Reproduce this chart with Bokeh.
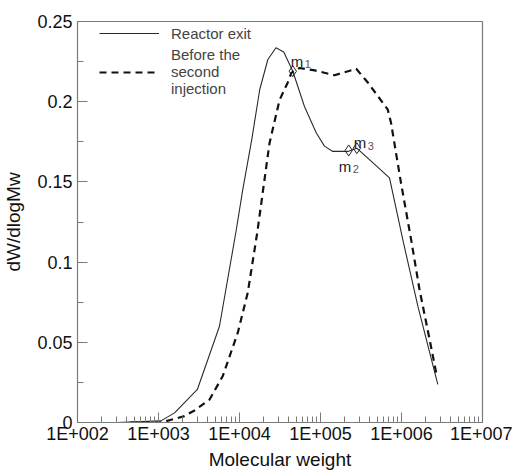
from bokeh.plotting import figure
from bokeh.models import (Legend, LegendItem, LogTicker, SingleIntervalTicker,
                          CustomJSTickFormatter, ColumnDataSource, Range1d)
from bokeh.embed import file_html
from bokeh.resources import INLINE
from bokeh.core.properties import value

# ---- data ----
reactor_mw = [310, 1070, 1580, 3020, 5660, 9120, 10960, 14130, 17780, 22390,
              28180, 35160, 45500, 63400, 88500, 111900, 141900, 217300,
              280500, 711200, 1037500, 1592000, 2805000]
reactor_w = [0.0, 0.001, 0.006, 0.0206, 0.060, 0.120, 0.145, 0.176, 0.2076,
             0.2263, 0.2336, 0.231, 0.219, 0.197, 0.1806, 0.1723, 0.169,
             0.169, 0.171, 0.1525, 0.114, 0.0725, 0.0237]

before_mw = [450, 1070, 1510, 2090, 2780, 4270, 6220, 9530, 12650, 16520,
             23440, 31190, 39450, 43650, 55080, 85100, 148900, 276100,
             383700, 677600, 741300, 988600, 1315000, 1667000, 2218000,
             2679000]
before_w = [0.0, 0.0, 0.002, 0.004, 0.0075, 0.0143, 0.029, 0.056, 0.081,
            0.118, 0.174, 0.201, 0.212, 0.218, 0.221, 0.2195, 0.2165, 0.2205,
            0.212, 0.195, 0.187, 0.149, 0.114, 0.083, 0.052, 0.031]

marker_mw = [45500, 223000, 281000]
marker_w = [0.219, 0.1696, 0.171]
marker_names = ["m", "m", "m"]
marker_subs = ["1", "2", "3"]

legend_labels = ["Reactor exit", "Before the\nsecond\ninjection"]
x_axis_title = "Molecular weight"
y_axis_title = "dW/dlogMw"

FONT = "Liberation Sans"
GRAY = "#7a7a7a"

p = figure(frame_width=405, frame_height=401, x_axis_type="log",
           output_backend="svg", toolbar_location=None,
           min_border_left=75, min_border_top=21,
           min_border_right=30, min_border_bottom=40)
p.x_range = Range1d(100, 1e7)
p.y_range = Range1d(0, 0.25)
p.grid.visible = False
p.outline_line_color = GRAY
p.outline_line_width = 1.2
p.background_fill_color = "white"
p.border_fill_color = "white"

r1 = p.line(reactor_mw, reactor_w, line_color="#2a2a2a", line_width=1.1)
r2 = p.line(before_mw, before_w, line_color="#111111", line_width=2.2,
            line_dash="7 5")

p.scatter(marker_mw, marker_w, marker="diamond", size=11, fill_color=None,
          line_color="#222222", line_width=1)

src = ColumnDataSource(dict(x=marker_mw, y=marker_w, t=marker_names,
                            s=marker_subs,
                            dx=[-2, -10, -3], dy=[-10, 16, -6],
                            sdx=[12, 4, 11], sdy=[-7, 19, -2]))
p.text(x="x", y="y", text="t", x_offset="dx", y_offset="dy", source=src,
       text_font=value(FONT), text_font_size="15px", text_color="#222222",
       text_baseline="alphabetic", text_align="left")
p.text(x="x", y="y", text="s", x_offset="sdx", y_offset="sdy", source=src,
       text_font=value(FONT), text_font_size="11px", text_color="#555555",
       text_baseline="alphabetic", text_align="left")

# axes
xa = p.xaxis[0]
xa.ticker = LogTicker(desired_num_ticks=6, num_minor_ticks=10)
xa.formatter = CustomJSTickFormatter(
    code="var e = Math.round(Math.log10(tick)); return '1E+' + String(e).padStart(3, '0');")
ya = p.yaxis[0]
ya.ticker = SingleIntervalTicker(interval=0.05, num_minor_ticks=2)
ya.formatter = CustomJSTickFormatter(code="return String(parseFloat(tick.toFixed(3)));")

for ax in (xa, ya):
    ax.axis_line_color = GRAY
    ax.major_tick_line_color = GRAY
    ax.minor_tick_line_color = GRAY
    ax.major_tick_in = 10
    ax.major_tick_out = 0
    ax.minor_tick_in = 6
    ax.minor_tick_out = 0
    ax.major_label_text_font = FONT
    ax.major_label_text_font_size = "18px"
    ax.major_label_text_color = "#111111"
    ax.axis_label_text_font = FONT
    ax.axis_label_text_font_size = "19px"
    ax.axis_label_text_font_style = "normal"
    ax.axis_label_text_color = "#111111"

xa.axis_label = x_axis_title
ya.axis_label = y_axis_title
xa.major_label_standoff = 1
xa.axis_label_standoff = 2
ya.major_label_standoff = 5
ya.axis_label_standoff = 10

legend = Legend(items=[LegendItem(label=legend_labels[0], renderers=[r1]),
                       LegendItem(label=legend_labels[1], renderers=[r2])],
                location=(22, 325), padding=0, margin=0, spacing=3,
                glyph_width=60, label_standoff=12,
                label_text_font=FONT, label_text_font_size="15px",
                label_text_line_height=1.1,
                border_line_alpha=0, background_fill_alpha=0)
p.add_layout(legend)

open("out.html", "w").write(file_html(p, INLINE))
